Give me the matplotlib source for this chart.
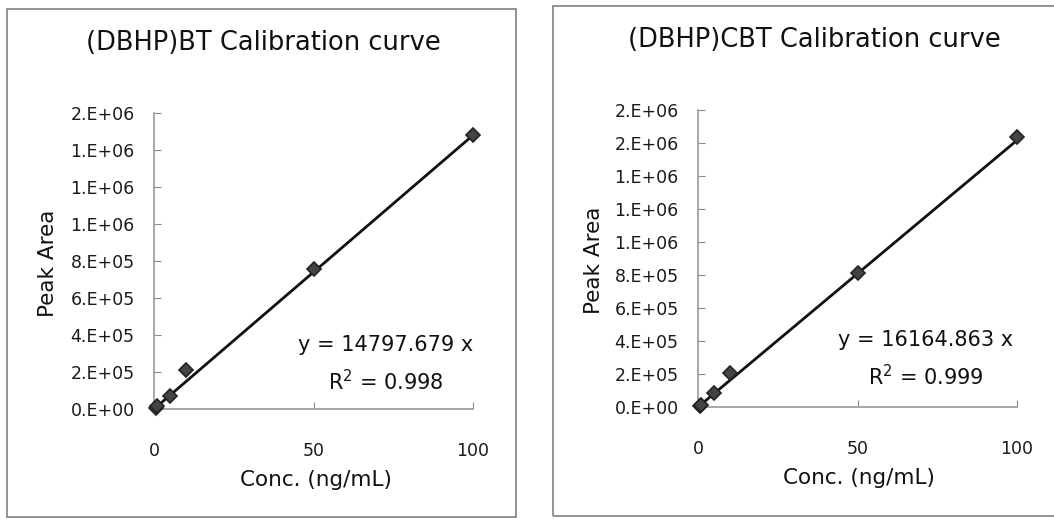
import matplotlib
matplotlib.use("Agg")
import matplotlib.pyplot as plt
from matplotlib.patches import Rectangle

plt.rcParams['font.family'] = ['DejaVu Sans']

# Calibration data
conc = [0.5, 1, 5, 10, 50, 100]
area_bt = [6.5e3, 1.4e4, 6.8e4, 2.12e5, 7.55e5, 1.481e6]
area_cbt = [7.0e3, 1.5e4, 8.5e4, 2.08e5, 8.12e5, 1.634e6]
slope_bt = 14797.679
slope_cbt = 16164.863
r2_bt = 0.998
r2_cbt = 0.999

yticks_bt = [0, 2e5, 4e5, 6e5, 8e5, 1.0e6, 1.2e6, 1.4e6, 1.6e6]
ylabels_bt = ['0.E+00', '2.E+05', '4.E+05', '6.E+05', '8.E+05',
              '1.E+06', '1.E+06', '1.E+06', '2.E+06']
yticks_cbt = [0, 2e5, 4e5, 6e5, 8e5, 1.0e6, 1.2e6, 1.4e6, 1.6e6, 1.8e6]
ylabels_cbt = ['0.E+00', '2.E+05', '4.E+05', '6.E+05', '8.E+05',
               '1.E+06', '1.E+06', '1.E+06', '2.E+06', '2.E+06']
xticks = [0, 50, 100]

W, H = 1054, 519
fig = plt.figure(figsize=(W / 100, H / 100), dpi=100)
fig.patch.set_facecolor('white')


def px(x0, y0, x1, y1):
    """Pixel box (left, top, right, bottom) -> figure fraction rect."""
    return [x0 / W, 1 - y1 / H, (x1 - x0) / W, (y1 - y0) / H]


def frame(x0, y0, x1, y1):
    fig.patches.append(Rectangle((x0 / W, 1 - y1 / H), (x1 - x0) / W, (y1 - y0) / H,
                                 transform=fig.transFigure, fill=False,
                                 edgecolor='#8a8a8a', linewidth=1.3))


def panel(rect, x, y, slope, r2, yticks, ylabels, title, title_xy, ylab_xy,
          xlab_xy, eq_xy):
    ax = fig.add_axes(rect)
    ax.set_xlim(0, 100)
    ax.set_ylim(0, yticks[-1])
    for s in ('top', 'right'):
        ax.spines[s].set_visible(False)
    for s in ('left', 'bottom'):
        ax.spines[s].set_color('#9a9a9a')
        ax.spines[s].set_linewidth(1.2)
    ax.set_xticks(xticks)
    ax.set_xticklabels([str(t) for t in xticks])
    ax.set_yticks(yticks)
    ax.set_yticklabels(ylabels)
    ax.tick_params(axis='y', direction='in', length=5, color='#8a8a8a',
                   labelsize=12.5, pad=14, labelcolor='#1a1a1a')
    ax.tick_params(axis='x', direction='in', length=5, color='#8a8a8a',
                   labelsize=12.5, pad=24, labelcolor='#1a1a1a')
    ax.patch.set_alpha(0)

    fit_x = [0, max(x)]
    ax.plot(fit_x, [slope * v for v in fit_x], color='#111111', lw=2.0,
            zorder=3, clip_on=False)
    ax.plot(x, y, linestyle='none', marker='D', markersize=7,
            markerfacecolor='#444444', markeredgecolor='#222222',
            markeredgewidth=1.2, zorder=4, clip_on=False)

    fig.text(title_xy[0] / W, 1 - title_xy[1] / H, title, ha='center',
             va='center', fontsize=18.5, color='#111111')
    fig.text(ylab_xy[0] / W, 1 - ylab_xy[1] / H, 'Peak Area', ha='center',
             va='center', rotation=90, fontsize=15.5, color='#111111')
    fig.text(xlab_xy[0] / W, 1 - xlab_xy[1] / H, 'Conc. (ng/mL)', ha='center',
             va='center', fontsize=15.5, color='#111111')
    fig.text(eq_xy[0] / W, 1 - eq_xy[1] / H, f'y = {slope:.3f} x',
             ha='center', va='center', fontsize=15, color='#111111')
    fig.text(eq_xy[0] / W, 1 - (eq_xy[1] + 37) / H,
             f'R$^{{2}}$ = {r2:.3f}', ha='center', va='center',
             fontsize=15, color='#111111')
    return ax


frame(7, 9, 516, 517)
frame(553, 6, 1060, 516)

panel(px(154, 113, 473, 409), conc, area_bt, slope_bt, r2_bt,
      yticks_bt, ylabels_bt, '(DBHP)BT Calibration curve',
      (263, 43), (48, 263), (316, 480), (386, 345))
panel(px(698, 110, 1017, 407), conc, area_cbt, slope_cbt, r2_cbt,
      yticks_cbt, ylabels_cbt, '(DBHP)CBT Calibration curve',
      (814, 40), (594, 260), (859, 478), (926, 340))

fig.savefig('out.png', dpi=100, facecolor='white')
